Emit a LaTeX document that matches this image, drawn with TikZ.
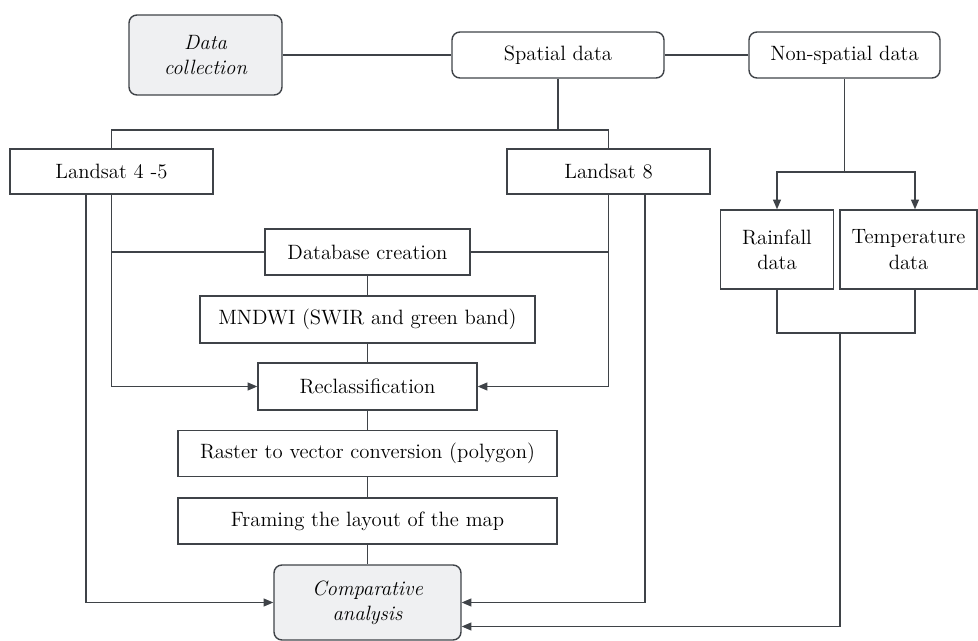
\documentclass[tikz,border=0pt]{standalone}
\usetikzlibrary{arrows.meta,positioning}
\definecolor{linegray}{HTML}{3F4348}
\definecolor{startfill}{HTML}{EFF0F2}

\begin{document}
\begin{tikzpicture}
[
  x=0.02cm, y=-0.02cm,
  font=\fontsize{11.8}{14.4}\selectfont,
  every node/.style={align=center, inner sep=2pt},
  box/.style={draw=linegray, line width=0.8pt, minimum height=0.92cm},
  rbox/.style={box, rounded corners=4.5pt},
  start/.style={rbox, fill=startfill, font=\fontsize{11.8}{14.4}\selectfont\itshape},
  link/.style={draw=linegray, line width=0.75pt},
  arr/.style={link, -{Triangle[length=5.5pt,width=4.5pt]}}
]
  \useasboundingbox (0,0) rectangle (978,641);

  \node[start, minimum width=3.06cm, minimum height=1.6cm] (datacoll) at (205.5,55) {Data\\collection};
  \node[rbox, minimum width=4.24cm] (spatial) at (558,55) {Spatial data};
  \node[rbox, minimum width=3.82cm] (nonspatial) at (844.5,55) {Non-spatial data};

  \node[box, minimum width=4.06cm, minimum height=0.9cm] (ls45) at (111.5,171.5) {Landsat 4 -5};
  \node[box, minimum width=4.06cm, minimum height=0.9cm] (ls8) at (608.5,171.5) {Landsat 8};

  \node[box, minimum width=4.1cm] (dbcreate) at (367.5,252) {Database creation};
  \node[box, minimum width=6.7cm, minimum height=0.94cm] (mndwi) at (367.5,319.5) {MNDWI (SWIR and green band)};
  \node[box, minimum width=4.38cm, minimum height=0.94cm] (reclass) at (367.5,386.5) {Reclassification};
  \node[box, minimum width=7.58cm] (raster) at (367.5,453.5) {Raster to vector conversion (polygon)};
  \node[box, minimum width=7.58cm] (framing) at (367.5,521) {Framing the layout of the map};
  \node[start, minimum width=3.74cm, minimum height=1.5cm] (comp) at (367.5,602.5) {Comparative\\analysis};

  \node[box, minimum width=2.26cm, minimum height=1.58cm] (rain) at (777,249.5) {Rainfall\\data};
  \node[box, minimum width=2.74cm, minimum height=1.58cm] (temp) at (908.5,249.5) {Temperature\\data};

  \coordinate (spj) at (558,130);
  \coordinate (nsj) at (844.5,172);
  \coordinate (mrg) at (840,333);

  \draw[link] (datacoll) -- (spatial);
  \draw[link] (spatial) -- (nonspatial);
  \draw[link] (spatial.south) -- (spj);
  \draw[link] (ls45.north) |- (spj) -| (ls8.north);

  \draw[arr] (ls45.south) |- (reclass.west);
  \draw[link] (ls45.south |- dbcreate) -- (dbcreate.west);
  \draw[arr] ([xshift=-0.51cm]ls45.south) |- (comp.west);
  \draw[arr] (ls8.south) |- (reclass.east);
  \draw[link] (ls8.south |- dbcreate) -- (dbcreate.east);
  \draw[arr] ([xshift=0.73cm]ls8.south) |- (comp.east);

  \draw[link] (dbcreate) -- (mndwi);
  \draw[link] (mndwi) -- (reclass);
  \draw[link] (reclass) -- (raster);
  \draw[link] (raster) -- (framing);
  \draw[link] (framing) -- (comp);

  \draw[link] (nonspatial.south) -- (nsj);
  \draw[arr] (nsj) -| (rain.north);
  \draw[arr] (nsj) -| ([xshift=0.13cm]temp.north);
  \draw[link] (rain.south) |- (mrg) -| ([xshift=0.13cm]temp.south);
  \draw[arr] (mrg) |- ([yshift=-0.48cm]comp.east);
\end{tikzpicture}
\end{document}
